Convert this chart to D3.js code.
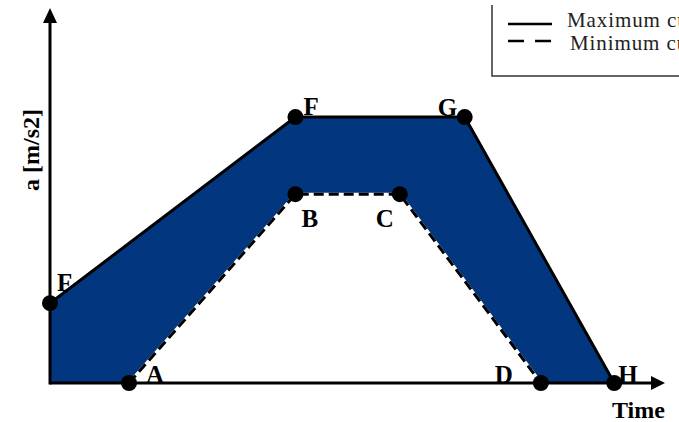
<!DOCTYPE html>
<html>
<head>
<meta charset="utf-8">
<script src="https://cdn.jsdelivr.net/npm/d3@7"></script>
<style>
  body { margin: 0; background: #fff; overflow: hidden; }
  text { font-family: "Liberation Serif", "Times New Roman", serif; }
</style>
</head>
<body>
<div id="vis"></div>
<script>
// Data (arbitrary units)
const maxTime = [0, 4.35, 7.35, 10];
const maxAccel = [3, 10, 10, 0];
const maxNames = ['F', 'F', 'G', 'H'];

const minTime = [1.4, 4.35, 6.2, 8.7];
const minAccel = [0, 7.1, 7.1, 0];
const minNames = ['A', 'B', 'C', 'D'];

const legendLabels = ['Maximum curve', 'Minimum curve'];
const xLabel = 'Time';
const yLabel = 'a [m/s2]';

// label offsets from each point (pixels)
const maxOffsets = [[7, -12], [8, -2], [-27, -1], [4, 0]];
const minOffsets = [[17, 0], [6, 33], [-24, 33], [-46, 0]];

const W = 679, H = 422;
const fillColor = '#02377f';

const svg = d3.select('#vis').append('svg')
    .attr('width', W)
    .attr('height', H);

const xScale = d3.scaleLinear().domain([0, 10.9]).range([50, 665]);
const yScale = d3.scaleLinear().domain([0, 14.1]).range([383, 8]);

const maxPts = maxTime.map((t, i) => ({ t: t, a: maxAccel[i], name: maxNames[i], off: maxOffsets[i] }));
const minPts = minTime.map((t, i) => ({ t: t, a: minAccel[i], name: minNames[i], off: minOffsets[i] }));

// band between curves
const band = [{ t: 0, a: 0 }].concat(maxPts, minPts.slice().reverse());
svg.append('path')
    .datum(band)
    .attr('d', d3.line().x(d => xScale(d.t)).y(d => yScale(d.a)))
    .attr('fill', fillColor);

const line = d3.line().x(d => xScale(d.t)).y(d => yScale(d.a));

// minimum curve (dashed)
svg.append('path')
    .datum(minPts)
    .attr('d', line)
    .attr('fill', 'none')
    .attr('stroke', '#fff')
    .attr('stroke-width', 3);
svg.append('path')
    .datum(minPts)
    .attr('d', line)
    .attr('fill', 'none')
    .attr('stroke', '#000')
    .attr('stroke-width', 3)
    .attr('stroke-dasharray', '10,5');

// maximum curve (solid)
svg.append('path')
    .datum(maxPts)
    .attr('d', line)
    .attr('fill', 'none')
    .attr('stroke', '#000')
    .attr('stroke-width', 3);

// axes with arrows
const x0 = xScale(0), y0 = yScale(0);
const xEnd = xScale.range()[1], yEnd = yScale.range()[1];
svg.append('line')
    .attr('x1', x0).attr('y1', y0)
    .attr('x2', xEnd - 8).attr('y2', y0)
    .attr('stroke', '#000').attr('stroke-width', 3);
svg.append('line')
    .attr('x1', x0).attr('y1', y0 + 1.5)
    .attr('x2', x0).attr('y2', yEnd + 8)
    .attr('stroke', '#000').attr('stroke-width', 3);
svg.append('path')
    .attr('d', `M${xEnd},${y0} L${xEnd - 14},${y0 - 7} L${xEnd - 14},${y0 + 7} Z`)
    .attr('fill', '#000');
svg.append('path')
    .attr('d', `M${x0},${yEnd} L${x0 - 7},${yEnd + 15} L${x0 + 7},${yEnd + 15} Z`)
    .attr('fill', '#000');

// points + labels
const allPts = maxPts.concat(minPts);
svg.selectAll('.dot')
    .data(allPts)
    .join('circle')
    .attr('class', 'dot')
    .attr('cx', d => xScale(d.t))
    .attr('cy', d => yScale(d.a))
    .attr('r', 8)
    .attr('fill', '#000');

svg.selectAll('.plabel')
    .data(allPts)
    .join('text')
    .attr('class', 'plabel')
    .attr('x', d => xScale(d.t) + d.off[0])
    .attr('y', d => yScale(d.a) + d.off[1])
    .attr('font-size', 25)
    .attr('font-weight', 'bold')
    .attr('fill', '#000')
    .text(d => d.name);

// axis labels
svg.append('text')
    .attr('x', 612)
    .attr('y', 418)
    .attr('font-size', 24)
    .attr('font-weight', 'bold')
    .text(xLabel);
svg.append('text')
    .attr('transform', 'translate(39,150) rotate(-90)')
    .attr('text-anchor', 'middle')
    .attr('font-size', 24)
    .attr('font-weight', 'bold')
    .text(yLabel);

// legend
const legend = svg.append('g');
legend.append('path')
    .attr('d', 'M492,5 L492,76 L679,76')
    .attr('fill', 'none')
    .attr('stroke', '#333')
    .attr('stroke-width', 1.5);
const legendY = [24, 41];
const legendTextY = [27, 50];
legendLabels.forEach((lab, i) => {
    legend.append('line')
        .attr('x1', 508).attr('x2', 552)
        .attr('y1', legendY[i]).attr('y2', legendY[i])
        .attr('stroke', '#000')
        .attr('stroke-width', 2.5)
        .attr('stroke-dasharray', i === 0 ? null : '16,11');
    legend.append('text')
        .attr('x', 567 + i * 3)
        .attr('y', legendTextY[i])
        .attr('font-size', 21)
        .attr('letter-spacing', 0.9)
        .attr('fill', '#222')
        .text(lab);
});
</script>
</body>
</html>
